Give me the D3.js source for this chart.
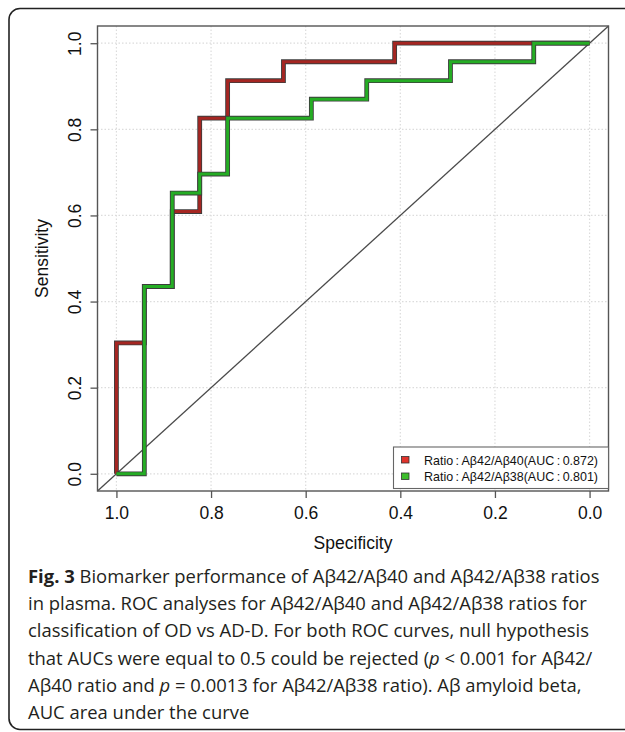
<!DOCTYPE html>
<html>
<head>
<meta charset="utf-8">
<script src="https://cdn.jsdelivr.net/npm/d3@7"></script>
<style>
  body { margin: 0; background: #fff; }
  svg { display: block; }
</style>
</head>
<body>
<div class="chart"></div>
<script>
// ROC points (specificity, sensitivity)
var ticks = [1.0, 0.8, 0.6, 0.4, 0.2, 0.0];
var tickLabels = ["1.0", "0.8", "0.6", "0.4", "0.2", "0.0"];

var spec4240 = [1, 1, 0.941, 0.941, 0.882, 0.882, 0.824, 0.824, 0.765, 0.765, 0.647, 0.647, 0.412, 0.412, 0];
var sens4240 = [0, 0.304, 0.304, 0.435, 0.435, 0.609, 0.609, 0.826, 0.826, 0.913, 0.913, 0.957, 0.957, 1, 1];

var spec4238 = [1, 0.941, 0.941, 0.882, 0.882, 0.824, 0.824, 0.765, 0.765, 0.588, 0.588, 0.471, 0.471, 0.294, 0.294, 0.118, 0.118, 0];
var sens4238 = [0, 0, 0.435, 0.435, 0.652, 0.652, 0.696, 0.696, 0.826, 0.826, 0.870, 0.870, 0.913, 0.913, 0.957, 0.957, 1, 1];

var seriesNames = ["Ratio\u2009:\u2009A\u03b242/A\u03b240(AUC\u2009:\u20090.872)", "Ratio\u2009:\u2009A\u03b242/A\u03b238(AUC\u2009:\u20090.801)"];
var seriesColors = ["#a52622", "#25ad24"];
var legendColors = ["#e0342c", "#3cbd2c"];

var captionLines = [
    [["Fig. 3", "bold"], [" Biomarker performance of A\u03b242/A\u03b240 and A\u03b242/A\u03b238 ratios", ""]],
    [["in plasma. ROC analyses for A\u03b242/A\u03b240 and A\u03b242/A\u03b238 ratios for", ""]],
    [["classification of OD vs AD-D. For both ROC curves, null hypothesis", ""]],
    [["that AUCs were equal to 0.5 could be rejected (", ""], ["p", "italic"], [" < 0.001 for A\u03b242/", ""]],
    [["A\u03b240 ratio and ", ""], ["p", "italic"], [" = 0.0013 for A\u03b242/A\u03b238 ratio). A\u03b2 amyloid beta,", ""]],
    [["AUC area under the curve", ""]]
];

var W = 625, H = 732;
var plot = { left: 97.5, right: 608.5, top: 26, bottom: 491 };

var svg = d3.select(".chart")
  .append("svg")
    .attr("width", W)
    .attr("height", H);

// outer rounded box (runs off the right edge)
svg.append("rect")
    .attr("x", 9)
    .attr("y", 8.5)
    .attr("width", 660)
    .attr("height", 721)
    .attr("rx", 11)
    .style("fill", "none")
    .style("stroke", "#222")
    .style("stroke-width", 1.6);

var x = d3.scaleLinear().domain([1.04, -0.04]).range([plot.left, plot.right]);
var y = d3.scaleLinear().domain([-0.04, 1.04]).range([plot.bottom, plot.top]);

var font = "'Liberation Sans', Arial, Helvetica, sans-serif";

// dotted grid
var grid = svg.append("g").attr("class", "grid");
grid.selectAll(".vg")
    .data(ticks)
    .enter()
    .append("line")
    .attr("x1", function(d) { return x(d); })
    .attr("x2", function(d) { return x(d); })
    .attr("y1", plot.top)
    .attr("y2", plot.bottom)
    .style("stroke", "#dcdcdc")
    .style("stroke-width", 1.2)
    .style("stroke-dasharray", "1.5,2");
grid.selectAll(".hg")
    .data(ticks)
    .enter()
    .append("line")
    .attr("y1", function(d) { return y(d); })
    .attr("y2", function(d) { return y(d); })
    .attr("x1", plot.left)
    .attr("x2", plot.right)
    .style("stroke", "#dcdcdc")
    .style("stroke-width", 1.2)
    .style("stroke-dasharray", "1.5,2");

// chance diagonal across the whole plot region
svg.append("line")
    .attr("x1", x(1.04)).attr("y1", y(-0.04))
    .attr("x2", x(-0.04)).attr("y2", y(1.04))
    .style("stroke", "#4a4a4a")
    .style("stroke-width", 1.3);

// axes
var xAxis = svg.append("g")
    .attr("class", "x axis")
    .attr("transform", "translate(0," + plot.bottom + ")")
    .call(d3.axisBottom(x).tickValues(ticks).tickFormat(function(d, i) { return tickLabels[i]; }).tickSize(7).tickPadding(9));
var yAxis = svg.append("g")
    .attr("class", "y axis")
    .attr("transform", "translate(" + plot.left + ",0)")
    .call(d3.axisLeft(y).tickValues(ticks).tickFormat(function(d, i) { return tickLabels[i]; }).tickSize(7));

[xAxis, yAxis].forEach(function(a) {
    a.select(".domain").remove();
    a.selectAll(".tick line").style("stroke", "#555").style("stroke-width", 1.3);
    a.selectAll("text").style("font-family", font).style("font-size", "17.5px").style("fill", "#111");
});
yAxis.selectAll(".tick text")
    .attr("x", null)
    .attr("dy", null)
    .attr("text-anchor", "middle")
    .attr("transform", "translate(-17,0) rotate(-90)");

// ROC curves, each with a dark edge under the colour
var line = d3.line()
    .x(function(d) { return x(d[0]); })
    .y(function(d) { return y(d[1]); });

var curves = [d3.zip(spec4240, sens4240), d3.zip(spec4238, sens4238)];
curves.forEach(function(pts, i) {
    svg.append("path")
        .datum(pts)
        .attr("d", line)
        .style("fill", "none")
        .style("stroke", "#3c3c3c")
        .style("stroke-width", 4.8)
        .style("stroke-linejoin", "miter");
    svg.append("path")
        .datum(pts)
        .attr("d", line)
        .style("fill", "none")
        .style("stroke", seriesColors[i])
        .style("stroke-width", 3)
        .style("stroke-linejoin", "miter");
});

// frame
svg.append("rect")
    .attr("x", plot.left)
    .attr("y", plot.top)
    .attr("width", plot.right - plot.left)
    .attr("height", plot.bottom - plot.top)
    .style("fill", "none")
    .style("stroke", "#555")
    .style("stroke-width", 1.4);

// legend
var legend = svg.append("g").attr("class", "legend");
legend.append("rect")
    .attr("x", 393.5)
    .attr("y", 447)
    .attr("width", plot.right - 393.5)
    .attr("height", 41.5)
    .style("fill", "#fff")
    .style("stroke", "#666")
    .style("stroke-width", 1.1);
var items = legend.selectAll(".item")
    .data(seriesNames)
    .enter()
    .append("g")
    .attr("class", "item")
    .attr("transform", function(d, i) { return "translate(0," + (460 + i * 16.5) + ")"; });
items.append("rect")
    .attr("x", 401.5)
    .attr("y", -3.5)
    .attr("width", 7.5)
    .attr("height", 6.5)
    .style("fill", function(d, i) { return legendColors[i]; })
    .style("stroke", "#333")
    .style("stroke-width", 0.8);
items.append("text")
    .attr("x", 424)
    .attr("y", 4.8)
    .attr("textLength", 174)
    .attr("lengthAdjust", "spacingAndGlyphs")
    .style("font-family", font)
    .style("font-size", "13.5px")
    .style("fill", "#111")
    .text(function(d) { return d; });

// axis titles
svg.append("text")
    .attr("x", (x(1) + x(0)) / 2)
    .attr("y", 549)
    .attr("text-anchor", "middle")
    .style("font-family", font)
    .style("font-size", "17.5px")
    .style("fill", "#111")
    .text("Specificity");
svg.append("text")
    .attr("transform", "translate(48," + ((y(0) + y(1)) / 2) + ") rotate(-90)")
    .attr("text-anchor", "middle")
    .style("font-family", font)
    .style("font-size", "17.5px")
    .style("fill", "#111")
    .text("Sensitivity");

// caption
var cap = svg.append("g").attr("class", "caption");
var capText = cap.selectAll("text")
    .data(captionLines)
    .enter()
    .append("text")
    .attr("x", 28)
    .attr("y", function(d, i) { return 583 + i * 27.2; })
    .style("font-family", "'Open Sans', 'Noto Sans', sans-serif")
    .style("font-size", "19px")
    .style("fill", "#231f20");
capText.selectAll("tspan")
    .data(function(d) { return d; })
    .enter()
    .append("tspan")
    .style("font-weight", function(d) { return d[1] === "bold" ? "bold" : null; })
    .style("font-style", function(d) { return d[1] === "italic" ? "italic" : null; })
    .text(function(d) { return d[0]; });

// fit caption size so first line ends where it does in the figure
var w0 = capText.node().getComputedTextLength();
var fs = 19 * 572 / w0;
capText.style("font-size", fs + "px");
</script>
</body>
</html>
